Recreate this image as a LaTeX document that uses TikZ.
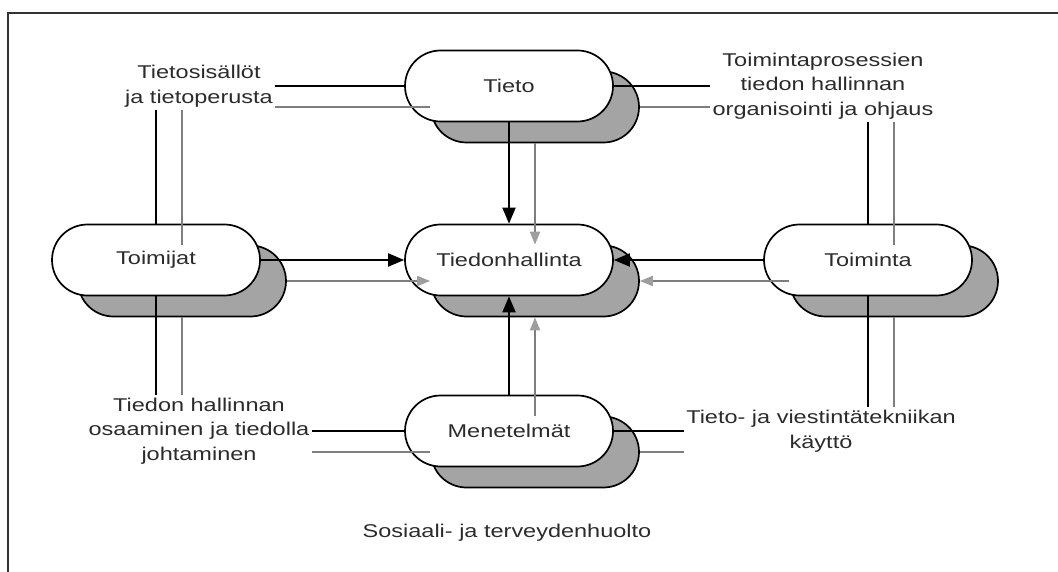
\documentclass[tikz,border=0pt]{standalone}
\usepackage{fontspec}
\setmainfont[FakeStretch=1.27]{Liberation Sans}
\usetikzlibrary{shapes.misc,arrows.meta,calc}
\definecolor{shade}{HTML}{A4A4A4}
\definecolor{wire}{HTML}{7E7E7E}
\definecolor{ink}{HTML}{2B2B2B}

\begin{document}
\begin{tikzpicture}[x=1pt,y=-1pt,
  txt/.style={font=\fontsize{18.5}{24.5}\selectfont, text=ink},
  capsule/.style={rounded rectangle, draw=black, line width=1.7pt, fill=white,
    minimum width=208pt, minimum height=71pt, inner sep=0pt, txt},
  capshadow/.style={capsule, fill=shade},
  note/.style={align=center, inner sep=2.5pt, txt},
  main/.style={line width=2pt, draw=black},
  echo/.style={line width=1.9pt, draw=wire},
  mainarrow/.style={main, -{Triangle[length=16pt,width=13pt]}},
  echoarrow/.style={echo, -{Triangle[length=13pt,width=10pt,color=wire!75!white]}}]

\useasboundingbox (0,0) rectangle (1058,572);

% frame
\draw[line width=1.6pt, draw=black!80] (8,572) -- (8,13) -- (1058,13);

% shadows
\node[capshadow] (tieto-sh)      at (535,107) {};
\node[capshadow] (toimijat-sh)   at (182,281) {};
\node[capshadow] (hub-sh)        at (535,281) {};
\node[capshadow] (toiminta-sh)   at (894,281) {};
\node[capshadow] (menetelmat-sh) at (535,452) {};

% capsules
\node[capsule] (tieto)      at (509,86)  {Tieto};
\node[capsule] (toimijat)   at (156,260) {Toimijat};
\node[capsule] (hub)        at (509,260) {Tiedonhallinta};
\node[capsule] (toiminta)   at (868,260) {Toiminta};
\node[capsule] (menetelmat) at (509,431) {Menetelmät};

% side notes
\node[note] (lbl-tl) at (199,86)  {Tietosisällöt\\ja tietoperusta};
\node[note] (lbl-tr) at (823,86)  {Toimintaprosessien\\tiedon hallinnan\\organisointi ja ohjaus};
\node[note] (lbl-bl) at (199,431) {Tiedon hallinnan\\osaaminen ja tiedolla\\johtaminen};
\node[note] (lbl-br) at (821,431) {Tieto- ja viestintätekniikan\\käyttö};
\node[txt] (caption) at (507,533) {Sosiaali- ja terveydenhuolto};

% flows into the hub
\draw[mainarrow] (tieto.south) -- (hub.north);
\draw[echoarrow] (tieto-sh.south) -- (hub-sh.north);
\draw[mainarrow] (toimijat.east) -- (hub.west);
\draw[echoarrow] (toimijat-sh.east) -- (hub-sh.west);
\draw[mainarrow] (toiminta.west) -- (hub.east);
\draw[echoarrow] (toiminta-sh.west) -- (hub-sh.east);
\draw[mainarrow] (menetelmat.north) -- (hub.south);
\draw[echoarrow] (menetelmat-sh.north) -- (hub-sh.south);

% links to the side notes
\draw[main] (tieto.west) -- (tieto.west -| lbl-tl.east);
\draw[echo] (tieto-sh.west) -- (tieto-sh.west -| lbl-tl.east);
\draw[main] (tieto.east) -- (tieto.east -| lbl-tr.west);
\draw[echo] (tieto-sh.east) -- (tieto-sh.east -| lbl-tr.west);

\draw[main] (toimijat.north) -- (toimijat.north |- lbl-tl.south);
\draw[echo] (toimijat-sh.north) -- (toimijat-sh.north |- lbl-tl.south);
\draw[main] (toimijat.south) -- (toimijat.south |- lbl-bl.north);
\draw[echo] (toimijat-sh.south) -- (toimijat-sh.south |- lbl-bl.north);

\draw[main] (toiminta.north) -- (toiminta.north |- lbl-tr.south);
\draw[echo] (toiminta-sh.north) -- (toiminta-sh.north |- lbl-tr.south);
\draw[main] (toiminta.south) -- (toiminta.south |- lbl-br.north);
\draw[echo] (toiminta-sh.south) -- (toiminta-sh.south |- lbl-br.north);

\draw[main] (menetelmat.west) -- (menetelmat.west -| lbl-bl.east);
\draw[echo] (menetelmat-sh.west) -- (menetelmat-sh.west -| lbl-bl.east);
\draw[main] (menetelmat.east) -- (menetelmat.east -| lbl-br.west);
\draw[echo] (menetelmat-sh.east) -- (menetelmat-sh.east -| lbl-br.west);
\end{tikzpicture}
\end{document}
